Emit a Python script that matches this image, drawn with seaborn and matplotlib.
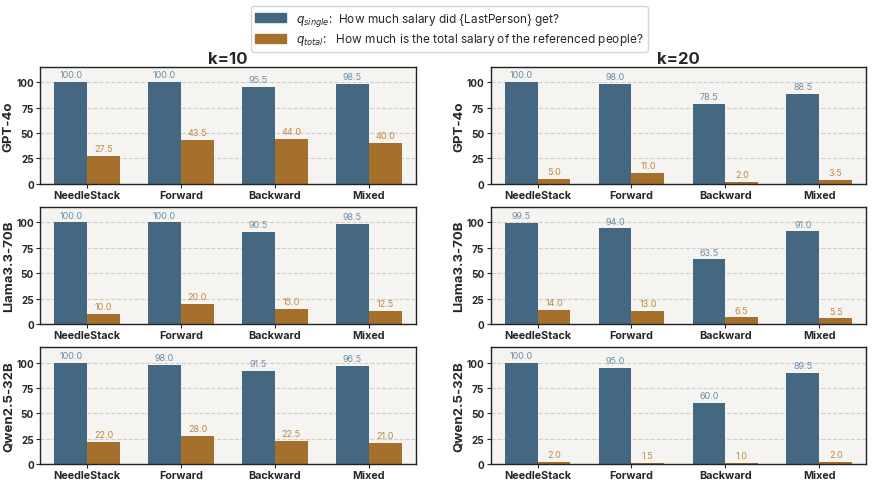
import numpy as np
import pandas as pd
import matplotlib
matplotlib.use("Agg")
import matplotlib.pyplot as plt
import seaborn as sns

methods = ["NeedleStack", "Forward", "Backward", "Mixed"]
models = ["GPT-4o", "Llama3.3-70B", "Qwen2.5-32B"]
ks = ["k=10", "k=20"]

# single / total accuracy for each model, k=10
single_k10 = {
    "GPT-4o": [100.0, 100.0, 95.5, 98.5],
    "Llama3.3-70B": [100.0, 100.0, 90.5, 98.5],
    "Qwen2.5-32B": [100.0, 98.0, 91.5, 96.5],
}
total_k10 = {
    "GPT-4o": [27.5, 43.5, 44.0, 40.0],
    "Llama3.3-70B": [10.0, 20.0, 15.0, 12.5],
    "Qwen2.5-32B": [22.0, 28.0, 22.5, 21.0],
}
# k=20
single_k20 = {
    "GPT-4o": [100.0, 98.0, 78.5, 88.5],
    "Llama3.3-70B": [99.5, 94.0, 63.5, 91.0],
    "Qwen2.5-32B": [100.0, 95.0, 60.0, 89.5],
}
total_k20 = {
    "GPT-4o": [5.0, 11.0, 2.0, 3.5],
    "Llama3.3-70B": [14.0, 13.0, 6.5, 5.5],
    "Qwen2.5-32B": [2.0, 1.5, 1.0, 2.0],
}

rows = []
for k, sd, td in [("k=10", single_k10, total_k10), ("k=20", single_k20, total_k20)]:
    for m in models:
        for i, meth in enumerate(methods):
            rows.append(dict(k=k, model=m, method=meth, q="single", acc=sd[m][i]))
            rows.append(dict(k=k, model=m, method=meth, q="total", acc=td[m][i]))
df = pd.DataFrame(rows)

sns.set_theme(style="ticks")
plt.rcParams["font.family"] = ["Inter", "DejaVu Sans"]

c_single = "#456882"
c_total = "#a5702b"
lab_single = "#6f8da6"
lab_total = "#c08a45"

fig, axes = plt.subplots(3, 2, figsize=(8.74, 4.85), dpi=100)
fig.subplots_adjust(left=0.046, right=0.991, top=0.86, bottom=0.041, hspace=0.2, wspace=0.2)

for col, k in enumerate(ks):
    for row, m in enumerate(models):
        ax = axes[row, col]
        sub = df[(df.k == k) & (df.model == m)]
        sns.barplot(data=sub, x="method", y="acc", hue="q", order=methods,
                    hue_order=["single", "total"], palette=[c_single, c_total],
                    width=0.7, saturation=1, legend=False, linewidth=0,
                    edgecolor="none", ax=ax)
        ax.set_facecolor("#f5f4f0")
        ax.set_ylim(0, 115)
        ax.set_yticks([0, 25, 50, 75, 100])
        ax.yaxis.grid(True, linestyle="--", color="#cfcfcf", linewidth=0.8)
        ax.set_axisbelow(True)
        ax.set_xlabel("")
        ax.set_ylabel(m, fontsize=9.5, fontweight="bold", labelpad=1)
        ax.tick_params(axis="both", labelsize=7.2, length=3, width=0.8, pad=1.5)
        for t in ax.get_xticklabels():
            t.set_fontweight("bold")
            t.set_fontsize(7.8)
        for t in ax.get_yticklabels():
            t.set_fontweight("bold")
        for s in ax.spines.values():
            s.set_linewidth(1.0)
            s.set_color("#222222")
        for cont, lc in zip(ax.containers, [lab_single, lab_total]):
            ax.bar_label(cont, fmt="%.1f", padding=2, fontsize=6.5, color=lc)
        if row == 0:
            ax.set_title(k, fontsize=12, fontweight="bold", pad=3)

handles = [plt.Rectangle((0, 0), 1, 1, color=c_single),
           plt.Rectangle((0, 0), 1, 1, color=c_total)]
labels = [r"$q_{single}$:  How much salary did {LastPerson} get?",
          r"$q_{total}$:   How much is the total salary of the referenced people?"]
fig.legend(handles, labels, loc="upper center", bbox_to_anchor=(0.514, 0.998),
           ncol=1, fontsize=8.5, frameon=True, handlelength=2.6, handleheight=0.8,
           borderpad=0.4, labelspacing=0.3, edgecolor="#cccccc")

fig.savefig("out.png", dpi=100)
